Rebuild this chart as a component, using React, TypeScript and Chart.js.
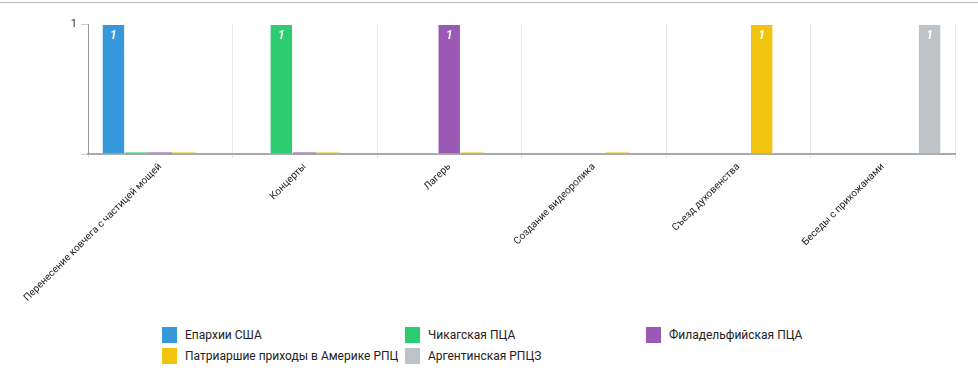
import React, { useEffect, useRef } from "react";
import { Chart, registerables } from "chart.js";

Chart.register(...registerables);

const categories = [
  "Перенесение ковчега с частицей мощей",
  "Концерты",
  "Лагерь",
  "Создание видеоролика",
  "Съезд духовенства",
  "Беседы с прихожанами",
];

const seriesNames = [
  "Епархии США",
  "Чикагская ПЦА",
  "Филадельфийская ПЦА",
  "Патриаршие приходы в Америке РПЦ",
  "Аргентинская РПЦЗ",
];

const seriesColors = ["#3498db", "#2ecc71", "#9b59b6", "#f1c40f", "#bdc3c7"];
const zeroColors = [
  "rgba(52,152,219,0.55)",
  "rgba(46,204,113,0.55)",
  "rgba(155,89,182,0.55)",
  "rgba(241,196,15,0.55)",
  "rgba(189,195,199,0.55)",
];

const eparchiiUSA = [1, null, null, null, null, null];
const chicagoPCA = [0, 1, null, null, null, null];
const philadelphiaPCA = [0, 0, 1, null, null, null];
const patriarchalRPC = [0, 0, 0, 0, 1, null];
const argentinaRPCZ = [null, null, null, null, null, 1];

const seriesValues = [eparchiiUSA, chicagoPCA, philadelphiaPCA, patriarchalRPC, argentinaRPCZ];

const yTicks = [0, 1];

const FONT = 'Roboto, "Noto Sans", sans-serif';

const CANVAS_W = 978;
const CANVAS_H = 310;

const dataLabelPlugin = {
  id: "dataLabels",
  afterDatasetsDraw(chart: any) {
    const ctx = chart.ctx;
    ctx.save();
    ctx.font = `italic bold 12px ${FONT}`;
    ctx.fillStyle = "#ffffff";
    ctx.textAlign = "center";
    ctx.textBaseline = "middle";
    chart.data.datasets.forEach((ds: any, di: number) => {
      const meta = chart.getDatasetMeta(di);
      meta.data.forEach((el: any, i: number) => {
        const v = ds.data[i];
        if (v === null || v === 0) return;
        ctx.fillText(String(v), el.x, el.y + 12);
      });
    });
    ctx.restore();
  },
};

export default function App() {
  const ref = useRef<HTMLCanvasElement | null>(null);

  useEffect(() => {
    document.body.style.margin = "0";
    if (!ref.current) return;
    const chart = new Chart(ref.current, {
      type: "bar",
      data: {
        labels: categories,
        datasets: seriesNames.map((name, i) => ({
          label: name,
          data: seriesValues[i],
          backgroundColor: (c: any) => (c.raw === 0 ? zeroColors[i] : seriesColors[i]),
          borderColor: "rgba(255,255,255,0.7)",
          borderWidth: (c: any) => (c.raw === 0 ? 0 : 1),
          minBarLength: 2,
          categoryPercentage: 0.81,
          barPercentage: 1,
        })),
      },
      options: {
        animation: false,
        responsive: false,
        maintainAspectRatio: false,
        layout: { padding: { top: 24, right: 23, left: 0, bottom: 0 } },
        plugins: {
          legend: { display: false },
          tooltip: { enabled: false },
        },
        scales: {
          x: {
            grid: {
              offset: true,
              color: (c: any) => (c.index === categories.length ? "rgba(0,0,0,0)" : "#e6e6e6"),
              tickLength: 4,
              drawTicks: true,
            },
            border: { color: "#aaaaaa", width: 2 },
            ticks: {
              autoSkip: false,
              maxRotation: 45,
              minRotation: 45,
              color: "#222222",
              font: { family: FONT, size: 10 },
              padding: 3,
            },
            afterFit: (s: any) => {
              s.height = CANVAS_H - 154;
            },
          },
          y: {
            min: 0,
            max: 1,
            afterBuildTicks: (s: any) => {
              s.ticks = yTicks.map((v) => ({ value: v }));
            },
            ticks: {
              color: "#333333",
              font: { family: FONT, size: 11 },
              padding: 4,
              callback: (v: any) => (v === 1 ? "1" : ""),
            },
            grid: {
              drawOnChartArea: false,
              drawTicks: true,
              tickLength: 7,
              color: "#cccccc",
            },
            border: { color: "#999999", width: 1 },
            afterFit: (s: any) => {
              s.width = 88;
            },
          },
        },
      },
      plugins: [dataLabelPlugin],
    });
    return () => chart.destroy();
  }, []);

  const legendCols = [162, 405, 646];
  const legendRows = [327, 348];

  return (
    <div style={{ position: "relative", width: 978, height: 372, background: "#fff", overflow: "hidden" }}>
      <div style={{ position: "absolute", left: 0, top: 2, width: 978, height: 0, borderTop: "1px solid #bbbbbb" }} />
      <canvas ref={ref} width={CANVAS_W} height={CANVAS_H} style={{ position: "absolute", left: 0, top: 0, width: CANVAS_W, height: CANVAS_H }} />
      {seriesNames.map((name, i) => {
        const col = i % 3;
        const row = Math.floor(i / 3);
        return (
          <div
            key={name}
            style={{
              position: "absolute",
              left: legendCols[col],
              top: legendRows[row],
              height: 16,
              display: "flex",
              alignItems: "center",
              fontFamily: FONT,
              fontSize: 12,
              color: "#222",
              whiteSpace: "nowrap",
            }}
          >
            <span style={{ display: "inline-block", width: 15, height: 16, background: seriesColors[i], marginRight: 8 }} />
            <span>{name}</span>
          </div>
        );
      })}
    </div>
  );
}
